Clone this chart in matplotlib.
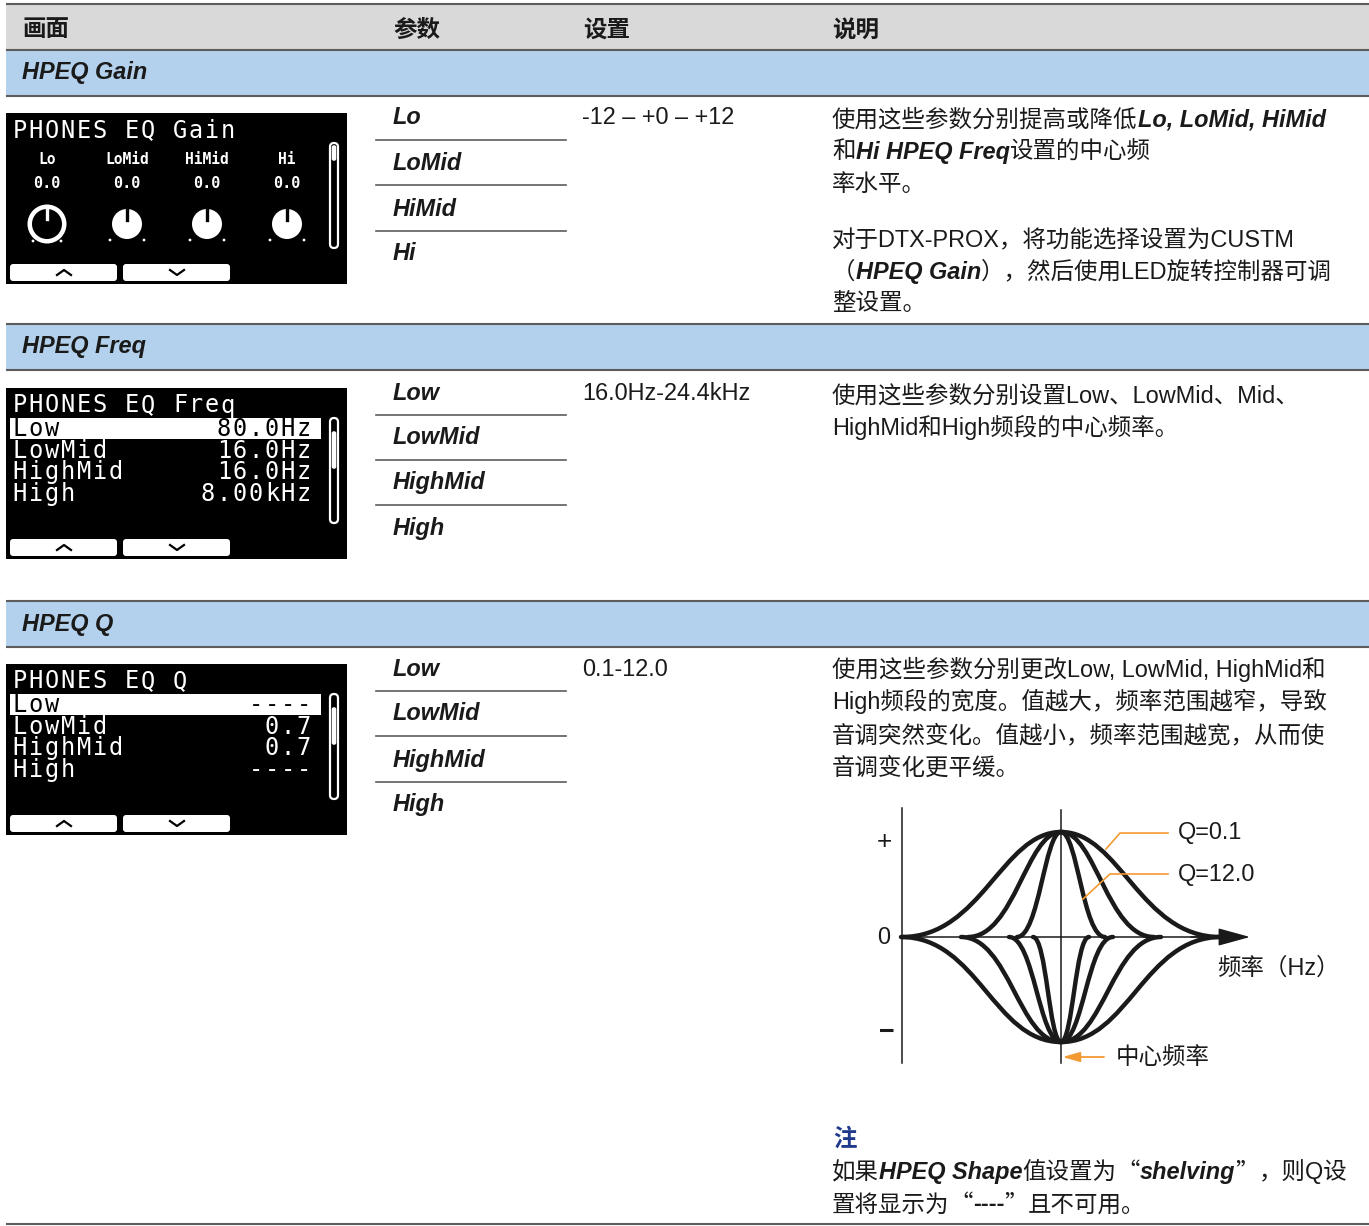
import matplotlib
matplotlib.use("Agg")
import matplotlib.pyplot as plt
from matplotlib.patches import Rectangle, FancyBboxPatch, Circle, PathPatch
from matplotlib.path import Path

# ---------------- data ----------------
columns = ["画面", "参数", "设置", "说明"]
sections = ["HPEQ Gain", "HPEQ Freq", "HPEQ Q"]
gain_params = ["Lo", "LoMid", "HiMid", "Hi"]
freq_params = ["Low", "LowMid", "HighMid", "High"]
q_params = ["Low", "LowMid", "HighMid", "High"]
settings = ["-12 – +0 – +12", "16.0Hz-24.4kHz", "0.1-12.0"]

gain_lcd_title = "PHONES EQ Gain"
gain_lcd_labels = ["Lo", "LoMid", "HiMid", "Hi"]
gain_lcd_values = ["0.0", "0.0", "0.0", "0.0"]
freq_lcd_title = "PHONES EQ Freq"
freq_lcd_rows = ["Low", "LowMid", "HighMid", "High"]
freq_lcd_values = ["80.0Hz", "16.0Hz", "16.0Hz", "8.00kHz"]
q_lcd_title = "PHONES EQ Q"
q_lcd_rows = ["Low", "LowMid", "HighMid", "High"]
q_lcd_values = ["----", "0.7", "0.7", "----"]

# bell curve half-widths (diagram units)
q_widths_boost = [1.59, 0.93, 0.44]
q_widths_cut = [1.60, 1.00, 0.52, 0.28]
q_labels = ["Q=0.1", "Q=12.0"]
diag_axis_labels = ["+", "0", "频率（Hz）", "中心频率"]

# ---------------- figure ----------------
W, H = 1369, 1226
fig = plt.figure(figsize=(W / 100, H / 100), dpi=100)
ax = fig.add_axes([0, 0, 1, 1])
ax.set_xlim(0, W)
ax.set_ylim(H, 0)
ax.axis("off")
renderer = fig.canvas.get_renderer()

LAT = ["Liberation Sans", "Noto Sans CJK SC"]
CJK = ["Noto Sans CJK SC"]
FS = 16.9
TXT = "#1a1a1a"
LINE = "#5c5c5c"
GRAY = "#d9d9d9"
BLUE = "#b3d1ec"
ORANGE = "#f39a32"


def style_kw(st):
    if st == "b":
        return dict(family=LAT, weight="bold")
    if st == "bi":
        return dict(family=LAT, weight="bold", style="italic")
    if st == "c":
        return dict(family=CJK)
    return dict(family=LAT)


def runs(x, yc, parts, size=FS, color=TXT):
    y = yc + 8.5
    for txt, st in parts:
        t = ax.text(x, y, txt, fontsize=size, va="baseline", ha="left",
                    color=color, **style_kw(st))
        bb = t.get_window_extent(renderer=renderer)
        x += bb.width


X0 = 6
# header band
ax.add_patch(Rectangle((X0, 4), W - X0, 46, color=GRAY, lw=0))
for yb in (50, 324, 601):
    ax.add_patch(Rectangle((X0, yb), W - X0, 46, color=BLUE, lw=0))
for yl in (4, 50, 96, 324, 370, 601, 647, 1224):
    ax.plot([X0, W], [yl, yl], color=LINE, lw=1.5, solid_capstyle="butt")

col_x = [22, 393, 583, 832]
for cx, c in zip(col_x, columns):
    runs(cx, 28, [(c, "b")])

sec_y = [71, 345, 622]
for sy, s in zip(sec_y, sections):
    runs(22, sy, [(s, "bi")])

# parameter columns
param_sets = [gain_params, freq_params, q_params]
param_y = [[116, 161, 207, 252], [391, 436, 481, 527], [667, 712, 758, 803]]
for plist, ys in zip(param_sets, param_y):
    for i, (p, y) in enumerate(zip(plist, ys)):
        runs(393, y, [(p, "bi")])
        if i < len(plist) - 1:
            ly = (ys[i] + ys[i + 1]) / 2 + 1
            ax.plot([376, 566], [ly, ly], color=LINE, lw=1.2)

for s, y in zip(settings, [116, 391, 667]):
    runs(582, y, [(s, "n")])

# descriptions
runs(832, 118, [("使用这些参数分别提高或降低", "n"), ("Lo, LoMid, HiMid", "bi")])
runs(832, 150, [("和", "n"), ("Hi HPEQ Freq", "bi"), ("设置的中心频", "n")])
runs(832, 182, [("率水平。", "n")])
runs(832, 239, [("对于DTX-PROX，将功能选择设置为CUSTM", "n")])
runs(832, 270, [("（", "n"), ("HPEQ Gain", "bi"), ("），然后使用LED旋转控制器可调", "n")])
runs(832, 302, [("整设置。", "n")])

runs(832, 394, [("使用这些参数分别设置Low、LowMid、Mid、", "n")])
runs(832, 426, [("HighMid和High频段的中心频率。", "n")])

runs(832, 669, [("使用这些参数分别更改Low, LowMid, HighMid和", "n")])
runs(832, 701, [("High频段的宽度。值越大，频率范围越窄，导致", "n")])
runs(832, 734, [("音调突然变化。值越小，频率范围越宽，从而使", "n")])
runs(832, 766, [("音调变化更平缓。", "n")])

runs(833, 1137, [("注", "b")], color="#1f3a8a")
runs(832, 1171, [("如果", "n"), ("HPEQ Shape", "bi"), ("值设置为", "n"), ("“", "c"),
                 ("shelving", "bi"), ("”", "c"), ("，则Q设", "n")])
runs(832, 1203, [("置将显示为", "n"), ("“", "c"), ("----", "b"), ("”", "c"),
                 ("且不可用。", "n")])

# ---------------- LCD screens ----------------
MONO = "DejaVu Sans Mono"


def lcd_str(x, yc, s, pitch=16.0, size=17, color="white", right=None, weight="normal"):
    if right is not None:
        x = right - len(s) * pitch
    for i, ch in enumerate(s):
        ax.text(x + i * pitch + pitch / 2, yc + size * 0.5, ch, ha="center",
                va="baseline", family=MONO, fontsize=size, color=color, weight=weight)


def lcd_frame(y0):
    ax.add_patch(Rectangle((X0, y0), 341, 171, color="black", lw=0))
    yb = y0 + 151
    for bx in (10, 123):
        ax.add_patch(FancyBboxPatch((bx, yb), 107, 17,
                                    boxstyle="round,pad=0,rounding_size=3",
                                    fc="white", ec="none"))
    ax.plot([57, 64, 71], [yb + 11, yb + 6, yb + 11], color="black", lw=1.6)
    ax.plot([170, 177, 184], [yb + 6, yb + 11, yb + 6], color="black", lw=1.6)


def scrollbar(ys, thumb_top, thumb_h):
    ax.add_patch(FancyBboxPatch((330, ys), 8, 105,
                                boxstyle="round,pad=0,rounding_size=4",
                                fc="black", ec="white", lw=1.6))
    ax.add_patch(FancyBboxPatch((332.5, thumb_top), 3, thumb_h,
                                boxstyle="round,pad=0,rounding_size=1.5",
                                fc="white", ec="white", lw=1.2))


# Gain screen
lcd_frame(113)
lcd_str(12, 129, gain_lcd_title)
scrollbar(143, 146, 14)
knob_x = [47, 127, 207, 287]
for i, (kx, lab, val) in enumerate(zip(knob_x, gain_lcd_labels, gain_lcd_values)):
    ax.text(kx, 160, lab, ha="center", va="center", family=MONO, fontsize=10.5,
            weight="bold", color="white")
    ax.text(kx, 184, val, ha="center", va="center", family=MONO, fontsize=11,
            weight="bold", color="white")
    if i == 0:
        ax.add_patch(Circle((kx, 224), 19.5, fc="white", ec="none"))
        ax.add_patch(Circle((kx, 224), 15, fc="black", ec="none"))
        ax.plot([kx, kx], [208, 219], color="white", lw=2.4)
        for dx in (-14, 14):
            ax.add_patch(Circle((kx + dx, 241), 1.4, fc="white", ec="none"))
    else:
        ax.add_patch(Circle((kx, 224), 15, fc="white", ec="none"))
        ax.plot([kx, kx], [209, 220], color="black", lw=2.4)
        for dx in (-17, 17):
            ax.add_patch(Circle((kx + dx, 240), 1.4, fc="white", ec="none"))


def list_screen(y0, title, rows, values):
    lcd_frame(y0)
    lcd_str(12, y0 + 16, title)
    ax.add_patch(Rectangle((10, y0 + 30), 311, 21, fc="white", ec="none"))
    for i, (r, v) in enumerate(zip(rows, values)):
        yc = y0 + 40 + i * 21.4
        col = "black" if i == 0 else "white"
        lcd_str(12, yc, r, color=col)
        lcd_str(0, yc, v, color=col, right=312)
    scrollbar(y0 + 30, y0 + 44, 36)


list_screen(388, freq_lcd_title, freq_lcd_rows, freq_lcd_values)
list_screen(664, q_lcd_title, q_lcd_rows, q_lcd_values)

# ---------------- Q diagram ----------------
dx0, dx1, dy0, dy1 = 880, 1260, 800, 1070
dax = fig.add_axes([dx0 / W, 1 - dy1 / H, (dx1 - dx0) / W, (dy1 - dy0) / H])
dax.set_xlim((dx0 - 1061) / 100, (dx1 - 1061) / 100)
dax.set_ylim((937 - dy1) / 105, (937 - dy0) / 105)
dax.axis("off")
dax.patch.set_alpha(0)

AX_LW = 1.1
dax.plot([-1.59, -1.59], [-1.20, 1.23], color=TXT, lw=AX_LW)
dax.plot([0, 0], [-1.20, 1.21], color=TXT, lw=AX_LW)
dax.annotate("", xy=(1.89, 0), xytext=(1.3, 0),
             arrowprops=dict(arrowstyle="-|>,head_length=0.8,head_width=0.22",
                             mutation_scale=25, color=TXT, lw=AX_LW,
                             shrinkA=0, shrinkB=0))
dax.plot([-1.59, 1.4], [0, 0], color=TXT, lw=AX_LW)


def bell(w, h, a, b):
    verts = [(-w, 0), (-w * a, 0), (-w * b, h), (0, h),
             (w * b, h), (w * a, 0), (w, 0)]
    codes = [Path.MOVETO] + [Path.CURVE4] * 6
    return PathPatch(Path(verts, codes), fill=False, ec=TXT, lw=3.2,
                     capstyle="round", joinstyle="round")


for w in q_widths_boost:
    dax.add_patch(bell(w, 1.0, 0.50, 0.37))
for w in q_widths_cut:
    dax.add_patch(bell(w, -1.0, 0.52, 0.42))

# axis labels
dax.text(-1.77, 0.905, diag_axis_labels[0], ha="center", va="center", fontsize=FS + 2,
         family=LAT, color=TXT)
dax.text(-1.77, 0.0, diag_axis_labels[1], ha="center", va="center", fontsize=FS,
         family=LAT, color=TXT)
dax.plot([-1.855, -1.685], [-0.886, -0.886], color=TXT, lw=2.2, solid_capstyle="butt")
dax.text(1.56, -0.295, diag_axis_labels[2], ha="left", va="center", fontsize=FS,
         family=LAT, color=TXT)
dax.text(0.55, -1.152, diag_axis_labels[3], ha="left", va="center", fontsize=FS,
         family=LAT, color=TXT)

# Q labels with orange leaders
dax.text(1.17, 1.0, q_labels[0], ha="left", va="center", fontsize=FS, family=LAT, color=TXT)
dax.text(1.17, 0.6, q_labels[1], ha="left", va="center", fontsize=FS, family=LAT, color=TXT)
dax.plot([1.07, 0.59, 0.45], [0.99, 0.99, 0.838], color=ORANGE, lw=1.2)
dax.plot([1.07, 0.49, 0.22], [0.60, 0.60, 0.362], color=ORANGE, lw=1.2)
dax.annotate("", xy=(0.015, -1.143), xytext=(0.43, -1.143),
             arrowprops=dict(arrowstyle="-|>,head_length=0.7,head_width=0.2",
                             mutation_scale=15, color=ORANGE, lw=1.3,
                             shrinkA=0, shrinkB=0))

fig.savefig("out.png", dpi=100, facecolor="white")
